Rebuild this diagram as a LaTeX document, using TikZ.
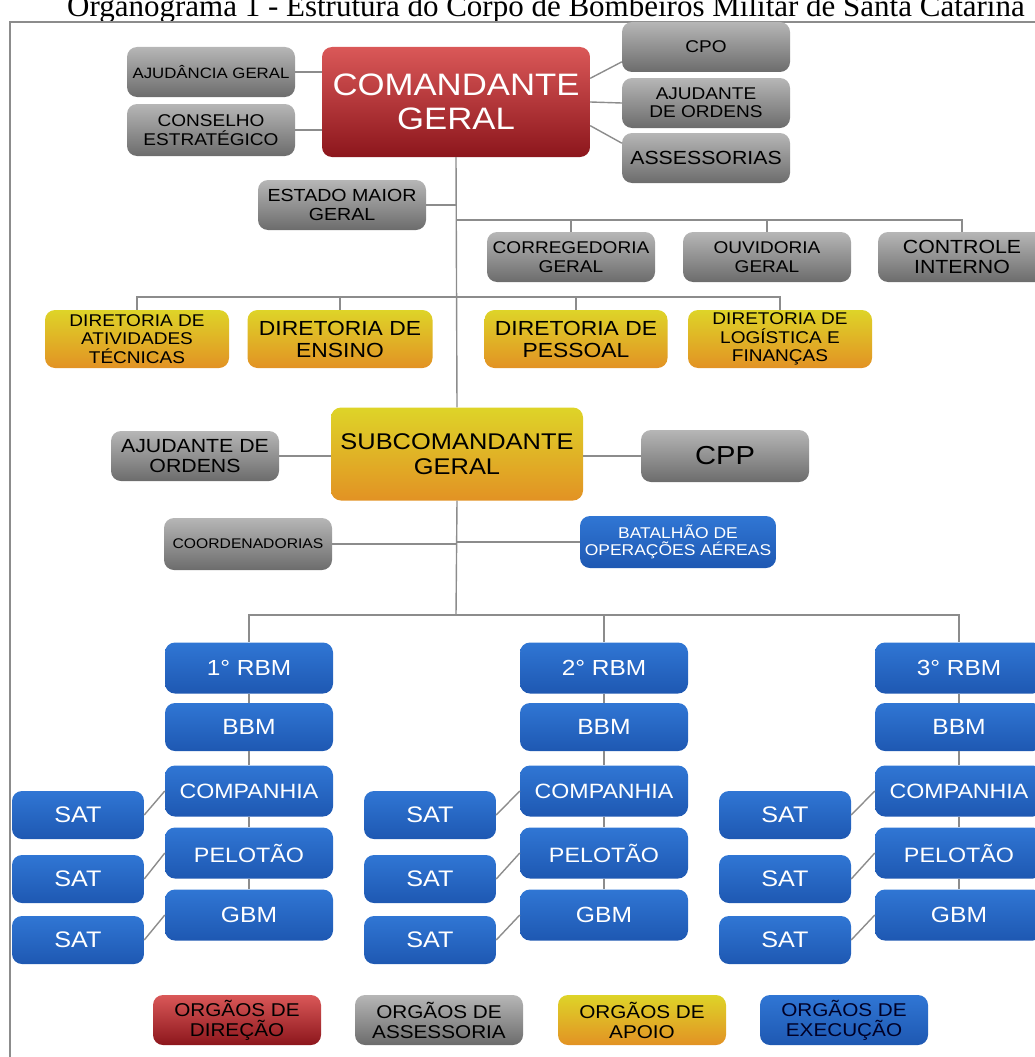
\documentclass[tikz,border=0pt]{standalone}
\usepackage{fontspec}
\setmainfont{Liberation Sans}[FakeStretch=1.12]
\newfontfamily\titlefont{Liberation Serif}
\definecolor{redtop}{RGB}{218,88,88}
\definecolor{redbot}{RGB}{140,22,28}
\definecolor{graytop}{RGB}{182,182,182}
\definecolor{graybot}{RGB}{108,108,108}
\definecolor{yeltop}{RGB}{222,212,40}
\definecolor{yelbot}{RGB}{226,146,36}
\definecolor{blutop}{RGB}{48,118,212}
\definecolor{blubot}{RGB}{30,88,178}
\definecolor{linegray}{RGB}{140,140,140}
\newcommand{\fs}[1]{\fontsize{#1}{1.08\dimexpr#1pt\relax}\selectfont}

\tikzset{
  box/.style={rounded corners=10pt, minimum width=168pt, minimum height=50pt,
    inner sep=1pt, align=center},
  dirbox/.style={box, top color=redtop, bottom color=redbot, text=white},
  assbox/.style={box, top color=graytop, bottom color=graybot, text=black},
  apobox/.style={box, top color=yeltop, bottom color=yelbot, text=black},
  exebox/.style={box, top color=blutop, bottom color=blubot, text=white},
  link/.style={draw=linegray, line width=1.4pt}
}

\begin{document}
\begin{tikzpicture}[x=1pt,y=-1pt]
	\useasboundingbox (0,0) rectangle (1035,1057);
	\clip (0,0) rectangle (1035,1057);
	\node[font=\titlefont\fs{31}, anchor=base] (title) at (546,17)
	{Organograma 1 - Estrutura do Corpo de Bombeiros Militar de Santa Catarina};
	\draw [linegray, line width=1.5pt] (10,1070) |- (1050,22);

	% direcao
	\node[dirbox, minimum width=268pt, minimum height=110pt, font=\fs{31}] (cmd) at (456,102) {COMANDANTE\\GERAL};
	\node[assbox, font=\fs{15}] (ajg) at (211,72) {AJUDÂNCIA GERAL};
	\node[assbox, minimum height=52pt, font=\fs{17}] (cons) at (211,130) {CONSELHO\\ESTRATÉGICO};
	\node[assbox, font=\fs{17}] (cpo) at (706,47) {CPO};
	\node[assbox, font=\fs{17}] (ajo) at (706,103) {AJUDANTE\\DE ORDENS};
	\node[assbox, font=\fs{19}] (ass) at (706,158) {ASSESSORIAS};
	\node[assbox, font=\fs{17.5}] (emg) at (342,205) {ESTADO MAIOR\\GERAL};
	\node[assbox, font=\fs{17}] (cor) at (571,257) {CORREGEDORIA\\GERAL};
	\node[assbox, font=\fs{17}] (ouv) at (767,257) {OUVIDORIA\\GERAL};
	\node[assbox, font=\fs{19}] (ctl) at (962,257) {CONTROLE\\INTERNO};

	% apoio
	\node[apobox, minimum width=184pt, minimum height=58pt, font=\fs{17}] (dat) at (137,339) {DIRETORIA DE\\ATIVIDADES\\TÉCNICAS};
	\node[apobox, minimum width=185pt, minimum height=58pt, font=\fs{20.4}] (den) at (340,339) {DIRETORIA DE\\ENSINO};
	\node[apobox, minimum width=183pt, minimum height=58pt, font=\fs{20.4}] (dpe) at (576,339) {DIRETORIA DE\\PESSOAL};
	\node[apobox, minimum width=184pt, minimum height=58pt, font=\fs{17}] (dlf) at (780,339) {DIRETORIA DE\\LOGÍSTICA E\\FINANÇAS};

	\node[apobox, minimum width=252pt, minimum height=93pt, font=\fs{22.7}] (sub) at (457,454) {SUBCOMANDANTE\\GERAL};
	\node[assbox, font=\fs{19}] (ajs) at (195,456) {AJUDANTE DE\\ORDENS};
	\node[assbox, minimum height=52pt, font=\fs{26}] (cpp) at (725,456) {CPP};
	\node[assbox, minimum height=52pt, font=\fs{14}] (coo) at (248,544) {COORDENADORIAS};
	\node[exebox, minimum width=196pt, minimum height=52pt, font=\fs{15.6}] (boa) at (678,542) {BATALHÃO DE\\OPERAÇÕES AÉREAS};

	\coordinate (b1) at (456,220);
	\coordinate (b2) at (456,297);
	\coordinate (b3) at (456,615);

	\draw[link] (ajg.east) -- (ajg.east -| cmd.west);
	\draw[link] (cons.east) -- (cons.east -| cmd.west);
	\draw[link] (cmd.10) -- (cpo.190);
	\draw[link] (cmd.east) -- (ajo.west);
	\draw[link] (cmd.-10) -- (ass.170);
	\draw[link] (cmd.south) -- (sub.north);
	\draw[link] (emg.east) -- (emg.east -| cmd.south);
	\draw[link] (b1) -| (cor.north);
	\draw[link] (b1) -| (ouv.north);
	\draw[link] (b1) -| (ctl.north);
	\draw[link] (b2) -| (dat.north);
	\draw[link] (b2) -| (den.north);
	\draw[link] (b2) -| (dpe.north);
	\draw[link] (b2) -| (dlf.north);
	\draw[link] (ajs.east) -- (ajs.east -| sub.west);
	\draw[link] (cpp.west) -- (cpp.west -| sub.east);
	\draw[link] (sub.south) -- (b3);
	\draw[link] (coo.east) -- (coo.east -| sub.south);
	\draw[link] (boa.west) -- (boa.west -| sub.south);

	% execucao
	\foreach \i/\cx/\sx in {1/249/78, 2/604/430, 3/959/785}{
		\node[exebox, minimum height=51pt, font=\fs{21.8}] (rbm\i) at (\cx,668) {\i° RBM};
		\node[exebox, minimum height=48pt, font=\fs{22}] (bbm\i) at (\cx,727) {BBM};
		\node[exebox, minimum height=51pt, font=\fs{20.7}] (cia\i) at (\cx,791) {COMPANHIA};
		\node[exebox, minimum height=51pt, font=\fs{20.8}] (pel\i) at (\cx,853) {PELOTÃO};
		\node[exebox, minimum height=51pt, font=\fs{22}] (gbm\i) at (\cx,915) {GBM};
		\node[exebox, minimum width=132pt, minimum height=48pt, font=\fs{22.5}] (sa\i) at (\sx,815) {SAT};
		\node[exebox, minimum width=132pt, minimum height=48pt, font=\fs{22.5}] (sb\i) at (\sx,879) {SAT};
		\node[exebox, minimum width=132pt, minimum height=48pt, font=\fs{22.5}] (sc\i) at (\sx,940) {SAT};
		\draw[link] (b3) -| (rbm\i.north);
		\draw[link] (rbm\i) -- (bbm\i);
		\draw[link] (bbm\i) -- (cia\i);
		\draw[link] (cia\i) -- (pel\i);
		\draw[link] (pel\i) -- (gbm\i);
		\draw[link] (sa\i.east) -- (cia\i.west);
		\draw[link] (sb\i.east) -- (pel\i.west);
		\draw[link] (sc\i.east) -- (gbm\i.west);
	}

	% legenda
	\node[dirbox, text=black, font=\fs{18.5}] (leg1) at (237,1020) {ORGÃOS DE\\DIREÇÃO};
	\node[assbox, font=\fs{18.5}] (leg2) at (439,1020) {ORGÃOS DE\\ASSESSORIA};
	\node[apobox, font=\fs{18.5}] (leg3) at (642,1020) {ORGÃOS DE\\APOIO};
	\node[exebox, text=black!85!blue, font=\fs{18.5}] (leg4) at (844,1020) {ORGÃOS DE\\EXECUÇÃO};
\end{tikzpicture}
\end{document}
